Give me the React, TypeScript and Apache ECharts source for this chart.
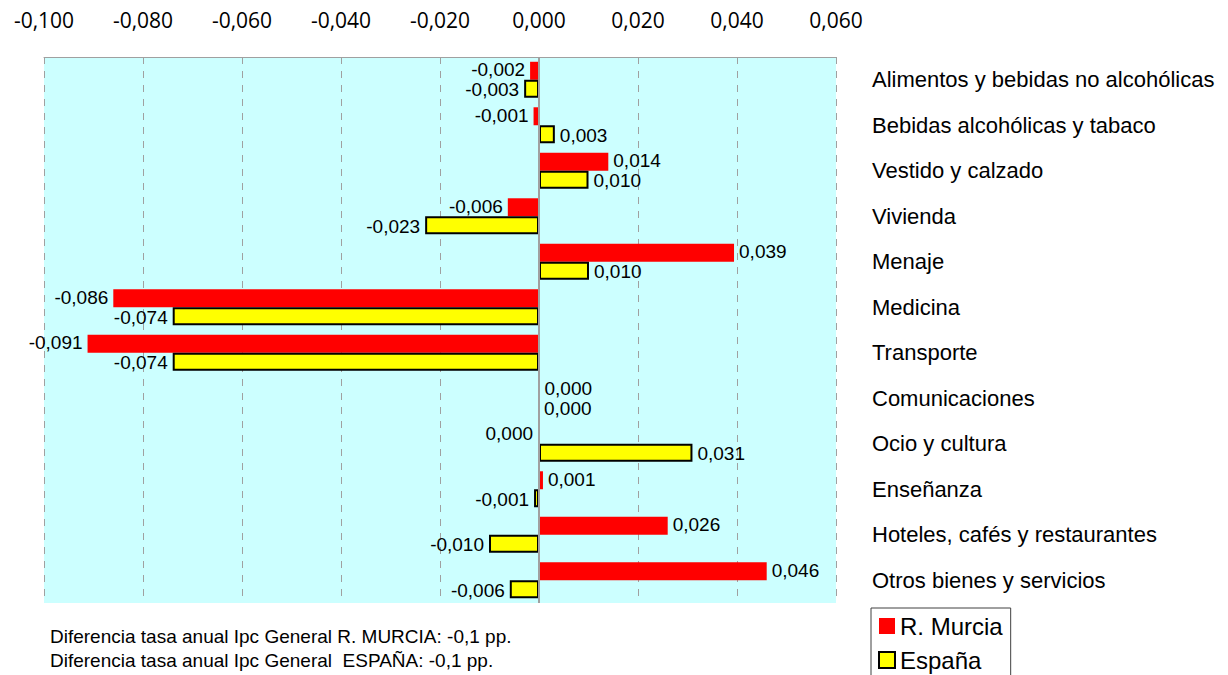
import React, { useEffect, useRef } from "react";
import * as echarts from "echarts";

const categories = [
  "Alimentos y bebidas no alcohólicas",
  "Bebidas alcohólicas y tabaco",
  "Vestido y calzado",
  "Vivienda",
  "Menaje",
  "Medicina",
  "Transporte",
  "Comunicaciones",
  "Ocio y cultura",
  "Enseñanza",
  "Hoteles, cafés y restaurantes",
  "Otros bienes y servicios",
];

const murcia = [-0.0018, -0.0011, 0.014, -0.0063, 0.0394, -0.086, -0.0912, 0.0001, -0.0002, 0.0008, 0.026, 0.046];
const espana = [-0.003, 0.0032, 0.01, -0.023, 0.0101, -0.074, -0.074, 0, 0.031, -0.001, -0.0101, -0.0059];

const footnotes = [
  "Diferencia tasa anual Ipc General R. MURCIA: -0,1 pp.",
  "Diferencia tasa anual Ipc General  ESPAÑA: -0,1 pp.",
];

const ARIAL = 'Arial, "Liberation Sans", sans-serif';

function fmt(v: number): string {
  let s = Number(v).toFixed(3);
  if (s === "-0.000") s = "0.000";
  return s.replace(".", ",");
}

export default function App() {
  const ref = useRef<HTMLDivElement>(null);

  useEffect(() => {
    if (!ref.current) return;
    const chart = echarts.init(ref.current, null, { renderer: "svg" });

    const labelBase = {
      show: true,
      formatter: (p: any) => fmt(p.value),
      fontFamily: ARIAL,
      fontSize: 19,
      lineHeight: 15,
      color: "#000",
      distance: 5,
    };

    chart.setOption({
      animation: false,
      backgroundColor: "#fff",
      grid: {
        left: 44,
        right: 392,
        top: 57,
        bottom: 72,
        show: true,
        backgroundColor: "#CCFFFF",
        borderWidth: 0,
      },
      xAxis: {
        type: "value",
        position: "top",
        min: -0.1,
        max: 0.06,
        interval: 0.02,
        axisLabel: {
          formatter: (v: number) => fmt(v),
          fontFamily: '"Open Sans", sans-serif',
          fontSize: 21,
          color: "#000",
          margin: 27,
        },
        axisLine: { show: true, onZero: false, lineStyle: { color: "#A0A0A0", width: 1 } },
        axisTick: { show: false },
        splitLine: { show: true, lineStyle: { color: "#A0A0A0", type: [7, 7], width: 1 } },
      },
      yAxis: {
        type: "category",
        data: categories,
        inverse: true,
        position: "right",
        axisLine: { show: false },
        axisTick: { show: false },
        splitLine: { show: false },
        axisLabel: {
          margin: 36,
          fontFamily: ARIAL,
          fontSize: 22,
          color: "#000",
        },
      },
      legend: {
        orient: "vertical",
        left: 871,
        top: 608,
        height: 120,
        borderColor: "#404040",
        borderWidth: 1,
        padding: [6, 8, 8, 7],
        itemGap: 10,
        itemWidth: 16,
        itemHeight: 16,
        textStyle: { fontFamily: ARIAL, fontSize: 24, color: "#000" },
        data: [
          { name: "R. Murcia", icon: "rect", itemStyle: { color: "#FF0000", borderWidth: 0 } },
          { name: "España", icon: "rect", itemStyle: { color: "#FFFF00", borderColor: "#000", borderWidth: 2 } },
        ],
      },
      graphic: [
        {
          type: "text",
          left: 50,
          top: 624,
          style: {
            text: footnotes.join("\n"),
            fontFamily: ARIAL,
            fontSize: 19,
            lineHeight: 24,
            fill: "#000",
          },
        },
      ],
      series: [
        {
          name: "R. Murcia",
          type: "bar",
          barGap: "0%",
          barCategoryGap: "21%",
          itemStyle: { color: "#FF0000" },
          label: { ...labelBase, offset: [0, -1] },
          data: murcia.map((v) => ({ value: v, label: { position: v < 0 ? "left" : "right" } })),
          markLine: {
            silent: true,
            symbol: "none",
            label: { show: false },
            lineStyle: { color: "#A0A0A0", type: "solid", width: 2 },
            data: [{ xAxis: 0 }],
          },
        },
        {
          name: "España",
          type: "bar",
          barGap: "0%",
          barCategoryGap: "21%",
          itemStyle: { color: "#FFFF00", borderColor: "#000", borderWidth: 2 },
          label: { ...labelBase, offset: [0, 1] },
          data: espana.map((v) => ({
            value: v,
            label: { position: v < 0 ? "left" : "right" },
            itemStyle: v === 0 ? { borderWidth: 0 } : undefined,
          })),
        },
      ],
    });

    return () => chart.dispose();
  }, []);

  return (
    <div
      ref={ref}
      style={{ position: "fixed", left: 0, top: 0, width: 1228, height: 675 }}
    />
  );
}
